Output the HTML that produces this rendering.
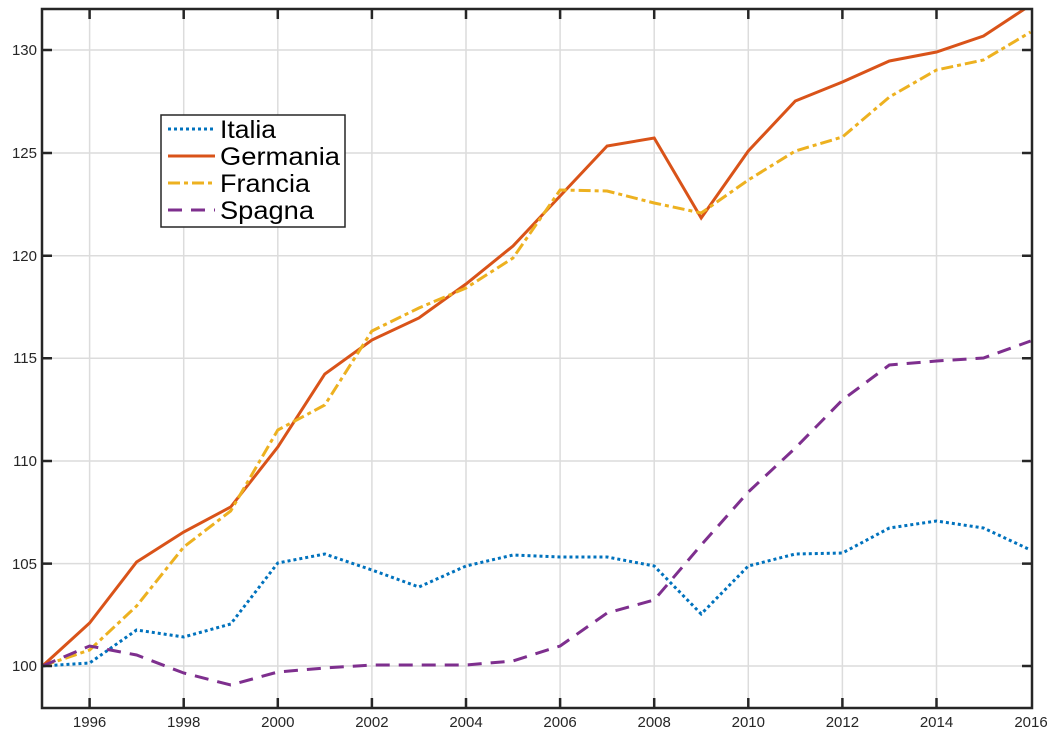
<!DOCTYPE html>
<html><head><meta charset="utf-8"><style>body{margin:0;background:#fff}svg{display:block}text{font-family:"Liberation Sans",sans-serif}</style></head><body>
<svg width="1061" height="743" viewBox="0 0 1061 743">
<defs><clipPath id="c"><rect x="42" y="9" width="990" height="699"/></clipPath></defs>
<g stroke="#dcdcdc" stroke-width="1.5">
<line x1="89.6" y1="9" x2="89.6" y2="708"/><line x1="183.7" y1="9" x2="183.7" y2="708"/><line x1="277.8" y1="9" x2="277.8" y2="708"/><line x1="371.9" y1="9" x2="371.9" y2="708"/><line x1="466" y1="9" x2="466" y2="708"/><line x1="560.1" y1="9" x2="560.1" y2="708"/><line x1="654.2" y1="9" x2="654.2" y2="708"/><line x1="748.3" y1="9" x2="748.3" y2="708"/><line x1="842.4" y1="9" x2="842.4" y2="708"/><line x1="936.5" y1="9" x2="936.5" y2="708"/>
<line x1="42" y1="50" x2="1032" y2="50"/><line x1="42" y1="153" x2="1032" y2="153"/><line x1="42" y1="255.7" x2="1032" y2="255.7"/><line x1="42" y1="358.3" x2="1032" y2="358.3"/><line x1="42" y1="461" x2="1032" y2="461"/><line x1="42" y1="563.6" x2="1032" y2="563.6"/><line x1="42" y1="666" x2="1032" y2="666"/>
</g>
<g clip-path="url(#c)" fill="none" stroke-width="3">
<polyline stroke="#0072bd" stroke-dasharray="3,3" points="42.5,666 89.6,663 136.6,630 183.7,637 230.7,624 277.8,563 324.8,554 371.9,570 418.9,587 466,566 513,555 560.1,557 607.1,557 654.2,566 701.2,614 748.3,566 795.3,554 842.4,553 889.4,528 936.5,521 983.5,528 1030.6,550"/>
<polyline stroke="#d95319" points="42.5,666 89.6,623 136.6,562 183.7,532 230.7,507 277.8,447 324.8,374 371.9,340 418.9,318 466,284 513,246 560.1,196 607.1,146 654.2,138 701.2,218 748.3,151 795.3,101 842.4,82 889.4,61 936.5,52 983.5,36 1030.6,5"/>
<polyline stroke="#edb120" stroke-dasharray="12,4,4,4" points="42.5,666 89.6,650 136.6,606 183.7,547 230.7,511 277.8,430 324.8,405 371.9,331 418.9,308 466,288 513,258 560.1,190 607.1,191 654.2,203 701.2,213 748.3,180 795.3,151 842.4,137 889.4,97 936.5,70 983.5,60 1030.6,32"/>
<polyline stroke="#7e2f8e" stroke-dasharray="14,9" points="42.5,666 89.6,646 136.6,655 183.7,673 230.7,685 277.8,672 324.8,668 371.9,665 418.9,665 466,665 513,661 560.1,646 607.1,613 654.2,600 701.2,545 748.3,492 795.3,448 842.4,400 889.4,365 936.5,361 983.5,358 1030.6,341"/>
</g>
<g stroke="#262626" stroke-width="2.5" fill="none">
<rect x="42" y="9" width="990" height="699"/>
<path d="M89.6 9v10M183.7 9v10M277.8 9v10M371.9 9v10M466 9v10M560.1 9v10M654.2 9v10M748.3 9v10M842.4 9v10M936.5 9v10M89.6 708v-10M183.7 708v-10M277.8 708v-10M371.9 708v-10M466 708v-10M560.1 708v-10M654.2 708v-10M748.3 708v-10M842.4 708v-10M936.5 708v-10M42 50h10M42 153h10M42 255.7h10M42 358.3h10M42 461h10M42 563.6h10M42 666h10M1032 50h-10M1032 153h-10M1032 255.7h-10M1032 358.3h-10M1032 461h-10M1032 563.6h-10M1032 666h-10"/>
</g>
<g font-size="15" fill="#262626" text-anchor="end">
<text x="37" y="55">130</text><text x="37" y="158">125</text><text x="37" y="261">120</text><text x="37" y="363">115</text><text x="37" y="466">110</text><text x="37" y="569">105</text><text x="37" y="671">100</text>
</g>
<g font-size="15" fill="#262626" text-anchor="middle">
<text x="89.6" y="727">1996</text><text x="183.7" y="727">1998</text><text x="277.8" y="727">2000</text><text x="371.9" y="727">2002</text><text x="466" y="727">2004</text><text x="560.1" y="727">2006</text><text x="654.2" y="727">2008</text><text x="748.3" y="727">2010</text><text x="842.4" y="727">2012</text><text x="936.5" y="727">2014</text><text x="1031" y="727">2016</text>
</g>
<rect x="161" y="115" width="184" height="112" fill="#fff" stroke="#262626" stroke-width="1.5"/>
<g stroke-width="3">
<line x1="168" y1="129" x2="215" y2="129" stroke="#0072bd" stroke-dasharray="3,3"/>
<line x1="168" y1="156" x2="215" y2="156" stroke="#d95319"/>
<line x1="168" y1="183" x2="215" y2="183" stroke="#edb120" stroke-dasharray="12,4,4,4"/>
<line x1="168" y1="210" x2="215" y2="210" stroke="#7e2f8e" stroke-dasharray="14,9"/>
</g>
<g font-size="25" fill="#000">
<text x="220" y="138" textLength="56" lengthAdjust="spacingAndGlyphs">Italia</text><text x="220" y="165" textLength="120" lengthAdjust="spacingAndGlyphs">Germania</text><text x="220" y="192" textLength="90" lengthAdjust="spacingAndGlyphs">Francia</text><text x="220" y="219" textLength="94" lengthAdjust="spacingAndGlyphs">Spagna</text>
</g>
</svg>
</body></html>
